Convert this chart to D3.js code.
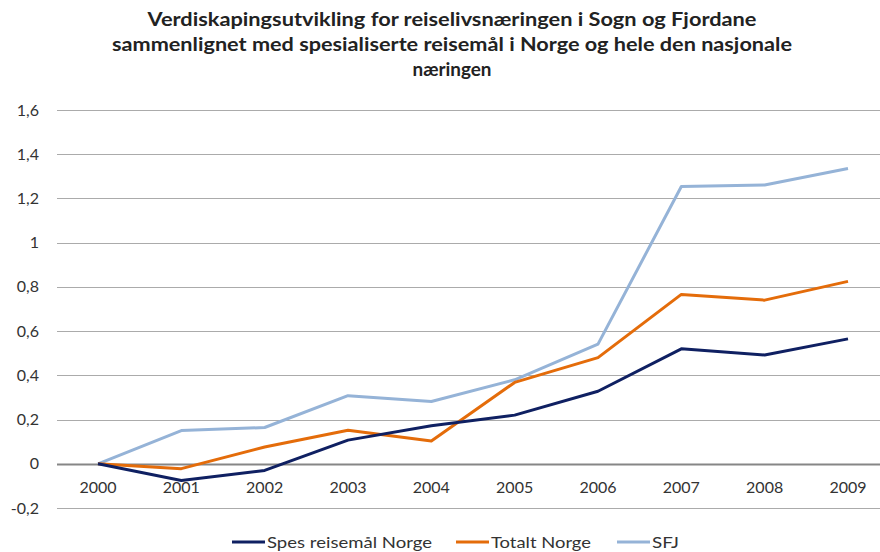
<!DOCTYPE html>
<html><head><meta charset="utf-8">
<script src="https://cdn.jsdelivr.net/npm/d3@7"></script>
<style>body{margin:0;background:#fff}svg{display:block}</style>
</head><body>
<svg id="c" width="880" height="552"></svg>
<script>
const years = ["2000","2001","2002","2003","2004","2005","2006","2007","2008","2009"];
const spes = [0, -0.076, -0.03, 0.107, 0.172, 0.22, 0.328, 0.52, 0.492, 0.565];
const totalt = [0, -0.022, 0.076, 0.152, 0.103, 0.368, 0.48, 0.766, 0.74, 0.825];
const sfj = [0, 0.15, 0.164, 0.308, 0.282, 0.38, 0.541, 1.254, 1.261, 1.335];
const seriesNames = ["Spes reisemål Norge", "Totalt Norge", "SFJ"];
const seriesColors = ["#0F2062", "#E46C0A", "#95B3D7"];
const yTicks = [-0.2, 0, 0.2, 0.4, 0.6, 0.8, 1, 1.2, 1.4, 1.6];
const titleLines = ["Verdiskapingsutvikling for reiselivsnæringen i Sogn og Fjordane",
  "sammenlignet med spesialiserte reisemål i Norge og hele den nasjonale",
  "næringen"];

const svg = d3.select("#c");
const font = "Lato, Open Sans, sans-serif";
const x = d3.scalePoint().domain(years).range([98, 848]);
const y = d3.scaleLinear().domain([-0.2, 1.6]).range([508, 110]);
const gridLeft = 57, gridRight = 880;

// title
const titleW = [609, 680, 79];
svg.append("g").selectAll("text").data(titleLines).join("text")
  .attr("x", 452).attr("y", (d, i) => 26 + i * 25)
  .attr("text-anchor", "middle").attr("font-family", font)
  .attr("font-weight", "bold").attr("font-size", 18).attr("fill", "#222")
  .attr("textLength", (d, i) => titleW[i]).attr("lengthAdjust", "spacingAndGlyphs")
  .text(d => d);

// grid
svg.append("g").selectAll("line").data(yTicks).join("line")
  .attr("x1", gridLeft).attr("x2", gridRight)
  .attr("y1", d => Math.round(y(d)) + 0.5).attr("y2", d => Math.round(y(d)) + 0.5)
  .attr("stroke", d => d === 0 ? "#868686" : "#ABABAB")
  .attr("stroke-width", d => d === 0 ? 2 : 1.2);

// y labels
const fmt = d => (Math.round(d * 10) / 10).toString().replace(".", ",");
svg.append("g").selectAll("text").data(yTicks).join("text")
  .attr("x", 39).attr("y", d => y(d)).attr("dy", "0.35em")
  .attr("text-anchor", "end").attr("font-family", font).attr("font-size", 16)
  .attr("fill", "#333").text(fmt);

// x labels
svg.append("g").selectAll("text").data(years).join("text")
  .attr("x", d => x(d)).attr("y", 487).attr("dy", "0.35em")
  .attr("text-anchor", "middle").attr("font-family", font).attr("font-size", 16)
  .attr("fill", "#333").text(d => d);

// lines
const data = [spes, totalt, sfj];
const line = d3.line().x((d, i) => x(years[i])).y(d => y(d));
const order = [2, 1, 0];
svg.append("g").selectAll("path").data(order).join("path")
  .attr("d", k => line(data[k])).attr("fill", "none")
  .attr("stroke", k => seriesColors[k]).attr("stroke-width", 3)
  .attr("stroke-linejoin", "round");

// legend
const legX = [232, 456, 617];
const legW = [165, 100, 27];
const lg = svg.append("g").selectAll("g").data(seriesNames).join("g")
  .attr("transform", (d, i) => `translate(${legX[i]},542)`);
lg.append("line").attr("x1", 0).attr("x2", 33).attr("y1", 0).attr("y2", 0)
  .attr("stroke", (d, i) => seriesColors[i]).attr("stroke-width", 3);
lg.append("text").attr("x", 35).attr("dy", "0.35em").attr("font-family", font)
  .attr("font-size", 16).attr("fill", "#333")
  .attr("textLength", (d, i) => legW[i]).attr("lengthAdjust", "spacingAndGlyphs")
  .text(d => d);
</script>
</body></html>
